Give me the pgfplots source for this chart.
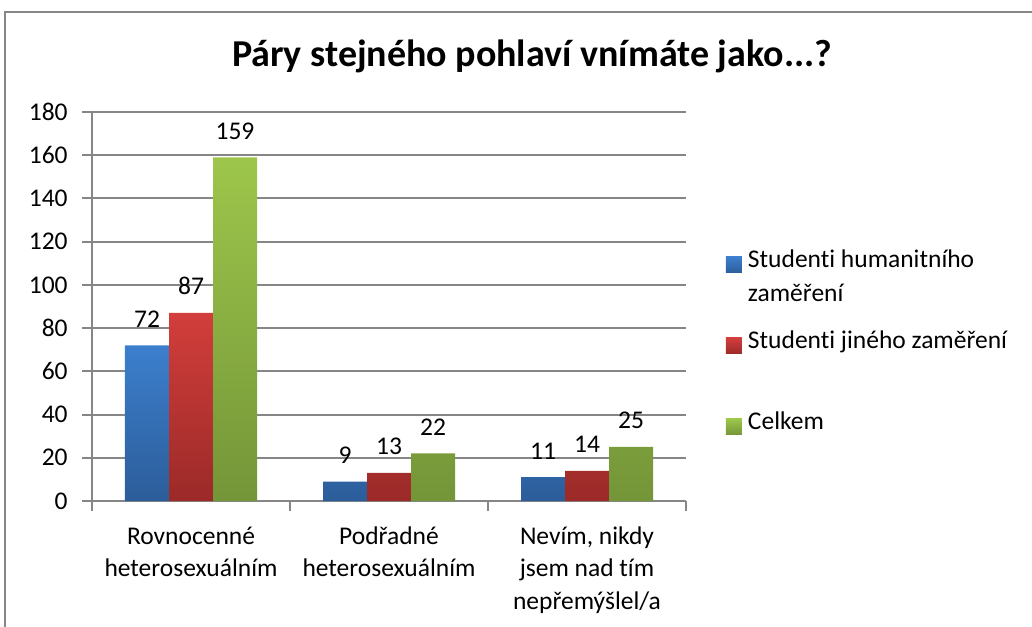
\documentclass[border=0pt]{standalone}
\usepackage{pgfplots}
\pgfplotsset{compat=1.18}
\usepackage{fontspec}
\setmainfont{Carlito}[Ligatures=NoCommon]
\definecolor{gridgray}{RGB}{134,134,134}
\definecolor{blueTop}{RGB}{60,127,205}
\definecolor{blueBot}{RGB}{44,93,154}
\definecolor{redTop}{RGB}{210,62,59}
\definecolor{redBot}{RGB}{155,42,40}
\definecolor{greenTop}{RGB}{157,198,75}
\definecolor{greenBot}{RGB}{116,149,56}
\pgfplotsset{/pgf/number format/assume math mode=true}
\begin{document}
\begin{tikzpicture}
\useasboundingbox (0,0) rectangle (516pt,-313pt);
\draw[gridgray, line width=1pt] (2.25pt,-330pt) -- (2.25pt,-6pt) -- (530pt,-6pt);
\node[anchor=base, inner sep=0pt, font=\fontsize{19}{23}\selectfont\bfseries] at (266pt,-33.5pt) {Páry stejného pohlaví vnímáte jako...?};
\begin{axis}[
  at={(46pt,-250.5pt)}, anchor=south west,
  width=297pt, height=194.5pt, scale only axis,
  ybar=0pt, bar width=22pt,
  xmin=-0.5, xmax=2.5, ymin=0, ymax=180,
  ytick={0,20,...,180},
  xtick={-0.5,0.5,1.5,2.5}, xticklabels={,,,},
  extra x ticks={0,1,2},
  extra x tick labels={{\begin{tabular}[t]{@{}c@{}}Rovnocenné\\heterosexuálním\end{tabular}},
    {\begin{tabular}[t]{@{}c@{}}Podřadné\\heterosexuálním\end{tabular}},
    {\begin{tabular}[t]{@{}c@{}}Nevím, nikdy\\jsem nad tím\\nepřemýšlel/a\end{tabular}}},
  extra x tick style={major tick length=0pt},
  axis x line*=bottom, axis y line*=left,
  axis line style={line width=1pt, gridgray},
  tick style={line width=1pt, gridgray},
  tick align=outside, major tick length=5pt,
  ymajorgrids, grid style={line width=1pt, gridgray},
  tick label style={font=\fontsize{12.75}{16.25}\selectfont, text=black},
  yticklabel style={anchor=east, inner sep=0pt, xshift=-7pt},
  xticklabel style={anchor=base, inner sep=0pt, yshift=-21.5pt},
  nodes near coords,
  nodes near coords style={font=\fontsize{12.75}{16.25}\selectfont, inner sep=0pt, anchor=south, yshift=8.75pt, text=black},
  legend image code/.code={\path[#1] (0pt,-2.5pt) rectangle (8pt,5.5pt);},
  legend style={draw=none, fill=none, inner sep=0pt, outer sep=0pt,
    at={(axis description cs:1.0673,0.6607)}, anchor=north west,
    row sep=0pt, column sep=0pt,
    /tikz/every odd column/.append style={column sep=3pt},
    /tikz/every even column/.append style={column sep=0pt},
    nodes={inner sep=0pt, text height=12pt, text depth=28.5pt, font=\fontsize{12.75}{17}\selectfont},
    cells={anchor=base west}},
]
\addplot[draw=none, top color=blueTop, bottom color=blueBot] coordinates {(0,72) (1,9) (2,11)};
\addlegendentry{\begin{tabular}[t]{@{}l@{}}Studenti humanitního\\zaměření\end{tabular}}
\addplot[draw=none, top color=redTop, bottom color=redBot] coordinates {(0,87) (1,13) (2,14)};
\addlegendentry{Studenti jiného zaměření}
\addplot[draw=none, top color=greenTop, bottom color=greenBot] coordinates {(0,159) (1,22) (2,25)};
\addlegendentry{Celkem}
\end{axis}
\end{tikzpicture}
\end{document}
